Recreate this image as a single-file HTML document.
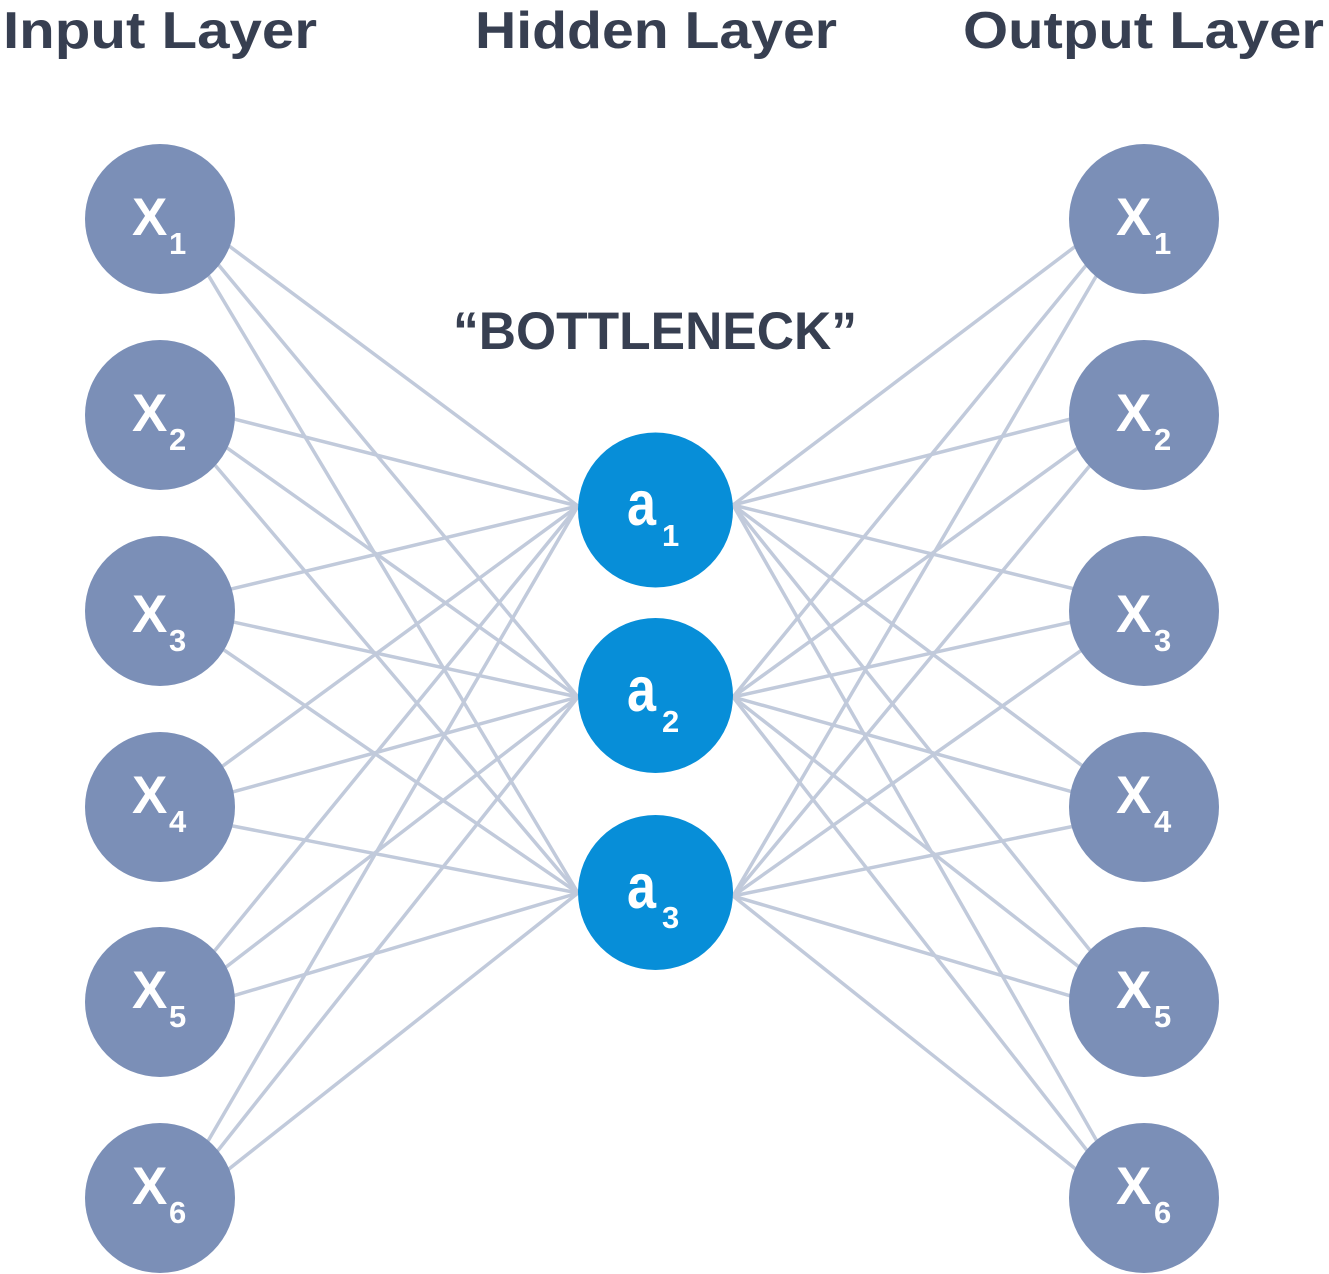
<!DOCTYPE html>
<html>
<head>
<meta charset="utf-8">
<style>
html,body{margin:0;padding:0;background:#fff;}
svg{display:block;}
text{font-family:"Liberation Sans", "DejaVu Sans", sans-serif;font-weight:bold;}
</style>
</head>
<body>
<svg width="1329" height="1274" viewBox="0 0 1329 1274" xmlns="http://www.w3.org/2000/svg">
  <!-- Titles -->
  <g fill="#373f51" font-size="52">
    <text x="3" y="48" textLength="314" lengthAdjust="spacingAndGlyphs">Input Layer</text>
    <text x="475" y="48" textLength="362" lengthAdjust="spacingAndGlyphs">Hidden Layer</text>
    <text x="963" y="48" textLength="361" lengthAdjust="spacingAndGlyphs">Output Layer</text>
    <text x="453" y="349" font-size="53" textLength="404" lengthAdjust="spacingAndGlyphs">“BOTTLENECK”</text>
  </g>

  <!-- Connections -->
  <g stroke="#c1cadb" stroke-width="3.5" fill="none">
    <!-- left side -->
    <line x1="160" y1="194.5" x2="578" y2="506"/>
    <line x1="160" y1="194.5" x2="578" y2="697"/>
    <line x1="160" y1="194.5" x2="578" y2="893"/>
    <line x1="160" y1="400.3" x2="578" y2="506"/>
    <line x1="160" y1="400.3" x2="578" y2="697"/>
    <line x1="160" y1="400.3" x2="578" y2="893"/>
    <line x1="160" y1="606.1" x2="578" y2="506"/>
    <line x1="160" y1="606.1" x2="578" y2="697"/>
    <line x1="160" y1="606.1" x2="578" y2="893"/>
    <line x1="160" y1="811.9" x2="578" y2="506"/>
    <line x1="160" y1="811.9" x2="578" y2="697"/>
    <line x1="160" y1="811.9" x2="578" y2="893"/>
    <line x1="160" y1="1017.7" x2="578" y2="506"/>
    <line x1="160" y1="1017.7" x2="578" y2="697"/>
    <line x1="160" y1="1017.7" x2="578" y2="893"/>
    <line x1="160" y1="1223.5" x2="578" y2="506"/>
    <line x1="160" y1="1223.5" x2="578" y2="697"/>
    <line x1="160" y1="1223.5" x2="578" y2="893"/>
    <!-- right side -->
    <line x1="733" y1="505" x2="1144" y2="194.5"/>
    <line x1="733" y1="697" x2="1144" y2="194.5"/>
    <line x1="733" y1="896" x2="1144" y2="194.5"/>
    <line x1="733" y1="505" x2="1144" y2="400.3"/>
    <line x1="733" y1="697" x2="1144" y2="400.3"/>
    <line x1="733" y1="896" x2="1144" y2="400.3"/>
    <line x1="733" y1="505" x2="1144" y2="606.1"/>
    <line x1="733" y1="697" x2="1144" y2="606.1"/>
    <line x1="733" y1="896" x2="1144" y2="606.1"/>
    <line x1="733" y1="505" x2="1144" y2="811.9"/>
    <line x1="733" y1="697" x2="1144" y2="811.9"/>
    <line x1="733" y1="896" x2="1144" y2="811.9"/>
    <line x1="733" y1="505" x2="1144" y2="1017.7"/>
    <line x1="733" y1="697" x2="1144" y2="1017.7"/>
    <line x1="733" y1="896" x2="1144" y2="1017.7"/>
    <line x1="733" y1="505" x2="1144" y2="1223.5"/>
    <line x1="733" y1="697" x2="1144" y2="1223.5"/>
    <line x1="733" y1="896" x2="1144" y2="1223.5"/>
  </g>

  <!-- Input nodes -->
  <g fill="#7b8fb7">
    <circle cx="160" cy="219" r="75"/>
    <circle cx="160" cy="415" r="75"/>
    <circle cx="160" cy="611" r="75"/>
    <circle cx="160" cy="807" r="75"/>
    <circle cx="160" cy="1002" r="75"/>
    <circle cx="160" cy="1198" r="75"/>
  </g>
  <!-- Output nodes -->
  <g fill="#7b8fb7">
    <circle cx="1144" cy="219" r="75"/>
    <circle cx="1144" cy="415" r="75"/>
    <circle cx="1144" cy="611" r="75"/>
    <circle cx="1144" cy="807" r="75"/>
    <circle cx="1144" cy="1002" r="75"/>
    <circle cx="1144" cy="1198" r="75"/>
  </g>
  <!-- Hidden nodes -->
  <g fill="#078ed8">
    <circle cx="655.5" cy="510" r="77.5"/>
    <circle cx="655.5" cy="695.5" r="77.5"/>
    <circle cx="655.5" cy="892.5" r="77.5"/>
  </g>

  <!-- Input labels -->
  <g fill="#ffffff">
    <text x="132" y="235" font-size="53">X</text><text x="169" y="254" font-size="31">1</text>
    <text x="132" y="431" font-size="53">X</text><text x="169" y="450" font-size="31">2</text>
    <text x="132" y="632" font-size="53">X</text><text x="169" y="651" font-size="31">3</text>
    <text x="132" y="813" font-size="53">X</text><text x="169" y="832" font-size="31">4</text>
    <text x="132" y="1008" font-size="53">X</text><text x="169" y="1027" font-size="31">5</text>
    <text x="132" y="1204" font-size="53">X</text><text x="169" y="1223" font-size="31">6</text>
  </g>
  <!-- Output labels -->
  <g fill="#ffffff">
    <text x="1116" y="235" font-size="53">X</text><text x="1154" y="254" font-size="31">1</text>
    <text x="1116" y="431" font-size="53">X</text><text x="1154" y="450" font-size="31">2</text>
    <text x="1116" y="632" font-size="53">X</text><text x="1154" y="651" font-size="31">3</text>
    <text x="1116" y="813" font-size="53">X</text><text x="1154" y="832" font-size="31">4</text>
    <text x="1116" y="1008" font-size="53">X</text><text x="1154" y="1027" font-size="31">5</text>
    <text x="1116" y="1204" font-size="53">X</text><text x="1154" y="1223" font-size="31">6</text>
  </g>
  <!-- Hidden labels -->
  <g fill="#ffffff">
    <text x="627" y="525" font-size="63" textLength="29" lengthAdjust="spacingAndGlyphs">a</text><text x="662" y="546" font-size="31">1</text>
    <text x="627" y="711" font-size="63" textLength="29" lengthAdjust="spacingAndGlyphs">a</text><text x="662" y="732" font-size="31">2</text>
    <text x="627" y="908" font-size="63" textLength="29" lengthAdjust="spacingAndGlyphs">a</text><text x="662" y="928" font-size="31">3</text>
  </g>
</svg>
</body>
</html>
